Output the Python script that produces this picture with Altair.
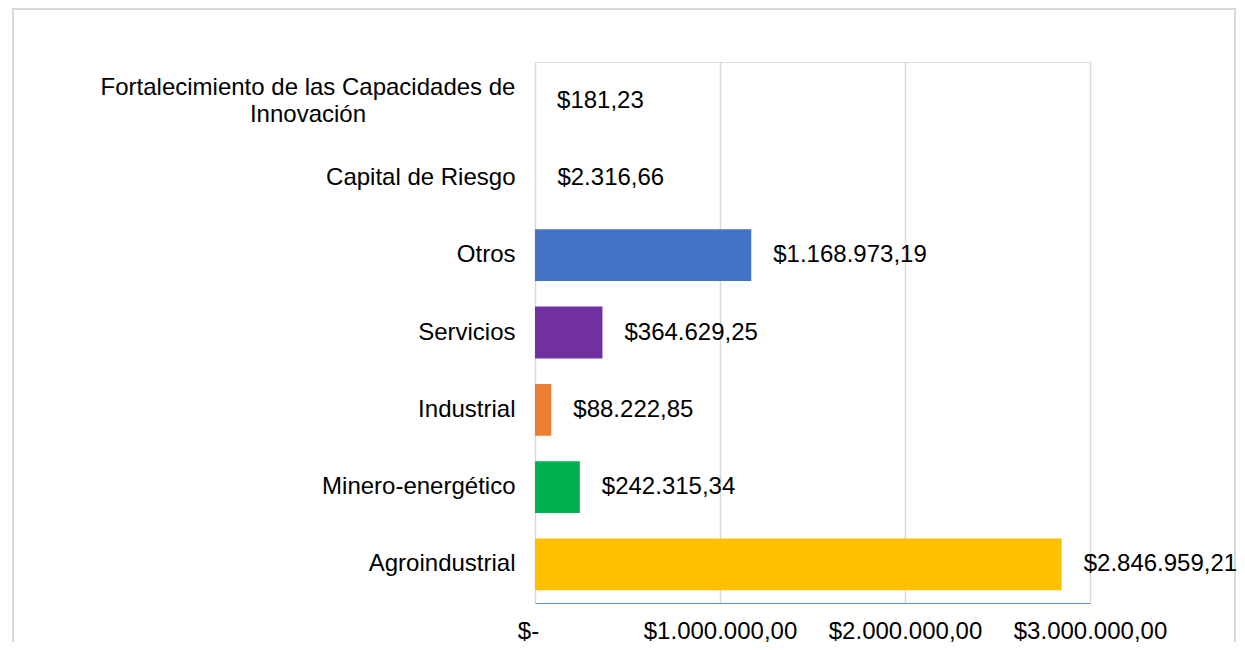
import altair as alt
import pandas as pd

categories = [
    "Fortalecimiento de las Capacidades de Innovación",
    "Capital de Riesgo",
    "Otros",
    "Servicios",
    "Industrial",
    "Minero-energético",
    "Agroindustrial",
]
values = [181.23, 2316.66, 1168973.19, 364629.25, 88222.85, 242315.34, 2846959.21]
colors = ["#D9D9D9", "#D9D9D9", "#4472C4", "#7030A0", "#ED7D31", "#00B050", "#FFC000"]

tick_values = [0, 1000000, 2000000, 3000000]
tick_labels = ["$-", "$1.000.000,00", "$2.000.000,00", "$3.000.000,00"]


def fmt(v):
    s = f"{v:,.2f}"
    s = s.replace(",", "X").replace(".", ",").replace("X", ".")
    return "$" + s


df = pd.DataFrame({
    "categoria": categories,
    "valor": values,
    "etiqueta": [fmt(v) for v in values],
})

FONT = "Liberation Sans"
LONG = categories[0]

x_label_expr = " : ".join(
    f"datum.value == {v} ? '{l}'" for v, l in zip(tick_values, tick_labels)
) + " : datum.label"

y_label_expr = (
    f"datum.value == '{LONG}' ? "
    "['Fortalecimiento de las Capacidades de', 'Innovación'] : datum.label"
)
is_long = f"datum.value == '{LONG}'"

base = alt.Chart(df)

bars = base.mark_bar().encode(
    x=alt.X(
        "valor:Q",
        scale=alt.Scale(domain=[0, 3000000], nice=False),
        axis=alt.Axis(
            values=tick_values,
            labelExpr=x_label_expr,
            title=None,
            grid=True,
            gridColor="#d9d9d9",
            gridWidth=1.5,
            ticks=False,
            domain=True,
            domainColor="#5B9BD5",
            domainWidth=1,
            labelFont=FONT,
            labelFontSize=24,
            labelColor="#000000",
            labelPadding=16,
            labelOffset={"condition": {"test": "datum.value == 0", "value": -7}, "value": 0},
            labelFlush=False,
            labelOverlap=False,
        ),
    ),
    y=alt.Y(
        "categoria:N",
        sort=categories,
        scale=alt.Scale(paddingInner=0.33, paddingOuter=0.165),
        axis=alt.Axis(
            title=None,
            domain=False,
            ticks=False,
            grid=False,
            labelExpr=y_label_expr,
            labelFont=FONT,
            labelFontSize=24,
            labelColor="#000000",
            labelPadding={"condition": {"test": is_long, "value": 227.5}, "value": 20},
            labelAlign={"condition": {"test": is_long, "value": "center"}, "value": "right"},
            labelOffset={"condition": {"test": is_long, "value": -13}, "value": 0},
            labelLineHeight=27,
            labelLimit=0,
        ),
    ),
    color=alt.Color(
        "categoria:N",
        scale=alt.Scale(domain=categories, range=colors),
        legend=None,
    ),
)

labels = base.mark_text(
    align="left", baseline="middle", dx=22, font=FONT, fontSize=24, color="#000000"
).encode(
    x=alt.X("valor:Q"),
    y=alt.Y("categoria:N", sort=categories),
    text="etiqueta:N",
)

border = alt.Chart(pd.DataFrame({"a": [0]})).mark_rect(
    fill=None, stroke="#d9d9d9", strokeWidth=2
).encode(
    x=alt.value(-522),
    x2=alt.value(700),
    y=alt.value(-53),
    y2=alt.value(700),
)

chart = alt.layer(border, bars, labels).properties(
    width=555,
    height=541,
    padding={"left": 527, "top": 54, "right": 147, "bottom": 39},
    autosize=alt.AutoSizeParams(type="none"),
).configure_view(stroke=None).configure(background="#ffffff")

chart.save("out.html", embed_options={"renderer": "svg", "actions": False})
